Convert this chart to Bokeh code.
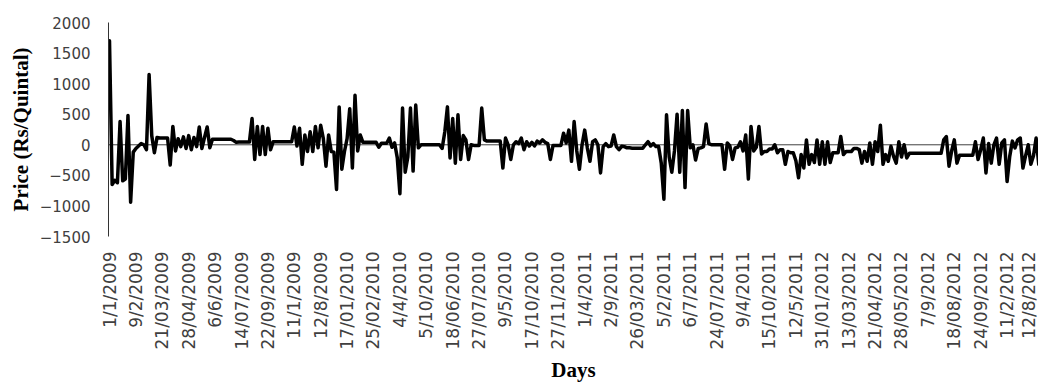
import math
from bokeh.plotting import figure
from bokeh.models import FixedTicker, Span, Range1d
from bokeh.embed import file_html
from bokeh.resources import INLINE

date_labels = [
    "1/1/2009", "9/2/2009", "21/03/2009", "28/04/2009", "6/6/2009", "14/07/2009",
    "22/09/2009", "11/1/2009", "12/8/2009", "17/01/2010", "25/02/2010", "4/4/2010",
    "5/10/2010", "18/06/2010", "27/07/2010", "9/5/2010", "17/10/2010", "27/11/2010",
    "1/4/2011", "2/9/2011", "26/03/2011", "5/2/2011", "6/7/2011", "24/07/2011",
    "9/4/2011", "15/10/2011", "12/5/2011", "31/01/2012", "13/03/2012", "21/04/2012",
    "28/05/2012", "7/9/2012", "18/08/2012", "24/09/2012", "11/2/2012", "12/8/2012",
]
label_every = 10

price_change = [
    1700, -650, -580, -620, 380, -590, -560, 480, -940, -120,
    -60, -20, 20, 0, -80, 1150, 150, -130, 120, 110,
    110, 110, 110, -330, 300, -100, 100, -30, 130, -60,
    150, -80, 120, -30, 290, -60, 120, 290, -50, 90,
    90, 90, 90, 90, 90, 90, 90, 70, 40, 45,
    45, 45, 45, 45, 430, -240, 300, -160, 300, -160,
    270, -80, 50, 50, 50, 50, 50, 50, 50, 50,
    290, -20, 270, -320, 160, -110, 215, -110, 300, -50,
    320, 100, -350, 160, -110, -120, -730, 620, -400, -110,
    100, 590, -380, 810, -100, 160, 40, 40, 40, 40,
    40, 40, -40, 25, 25, 25, 110, -40, 30, -210,
    -800, 600, -450, -200, 600, -430, 650, -50, 0, 0,
    0, 0, 0, 0, 0, 0, -60, 210, 620, -215,
    430, -300, 490, -240, 150, 80, -240, 0, -10, -10,
    -10, 600, 80, 60, 60, 60, 60, 60, 60, -380,
    110, 0, -240, 0, 50, 20, 110, -80, 50, -20,
    40, -20, 60, 30, 80, 40, 20, -240, -10, -10,
    -10, -10, 190, 30, 240, -270, 380, -100, -400, 0,
    240, -50, -270, 50, 80, 0, -460, -30, 20, -30,
    -20, 160, -30, -80, -25, -30, -50, -50, -55, -55,
    -55, -55, -55, 0, 50, -20, 20, -30, -30, -300,
    -890, 490, -200, -450, -100, 500, -450, 560, -700, 560,
    -50, 0, -250, -60, -50, -30, 340, 20, 0, 0,
    0, 0, 0, -400, 30, -20, -240, -50, -40, 50,
    -100, 160, -560, 300, -100, -40, 300, -150, -110, -110,
    -70, -70, 0, -130, -80, -80, -320, -110, -130, -130,
    -260, -540, -160, -380, 80, -320, -160, -290, 80, -320,
    50, -320, 50, -290, -130, -130, -130, 135, -160, -110,
    -110, -110, -60, -60, -80, -300, -110, -270, 30, -320,
    50, -110, 320, -320, -160, -270, -25, -190, -300, 50,
    -200, 0, -215, -140, -140, -140, -140, -140, -140, -140,
    -140, -140, -140, -140, -140, -140, 80, 135, -350, -100,
    80, -300, -170, -170, -170, -170, -170, -170, 50, -240,
    -80, 110, -460, 20, -300, 0, 110, -320, 30, 80,
    -600, -190, 60, -50, 80, 110, -380, -180, 0, -320,
    -180, 110, -320,
]
day_index = list(range(len(price_change)))

y_ticks = [-1500, -1000, -500, 0, 500, 1000, 1500, 2000]

p = figure(
    width=1038, height=385,
    output_backend="svg", toolbar_location=None,
    x_range=Range1d(-0.38, 351.9), y_range=Range1d(-1500, 2000),
    min_border_left=108, min_border_right=0, min_border_top=22, min_border_bottom=147,
)
p.grid.visible = False
p.outline_line_color = None
p.background_fill_color = "white"

p.add_layout(Span(location=0, dimension="width", line_color="#404040",
                  line_width=1, level="underlay"))
p.line(day_index, price_change, line_color="black", line_width=3.5,
       line_join="round", line_cap="round")

tick_font = "DejaVu Sans"
lab_color = "#404040"

xa = p.xaxis[0]
xa.ticker = FixedTicker(ticks=[i * label_every for i in range(len(date_labels))])
xa.major_label_overrides = {i * label_every: lab for i, lab in enumerate(date_labels)}
xa.major_label_orientation = math.pi / 2
xa.axis_line_color = None
xa.major_tick_line_color = None
xa.minor_tick_line_color = None
xa.major_tick_out = 0
xa.major_label_standoff = 15
xa.major_label_text_font = tick_font
xa.major_label_text_font_size = "17px"
xa.major_label_text_color = lab_color
xa.axis_label = "Days"
xa.axis_label_text_font = "Liberation Serif"
xa.axis_label_text_font_style = "bold"
xa.axis_label_text_font_size = "21px"
xa.axis_label_text_color = "black"
xa.axis_label_standoff = 6

ya = p.yaxis[0]
ya.ticker = FixedTicker(ticks=y_ticks)
ya.axis_line_color = "#333333"
ya.axis_line_width = 1
ya.major_tick_line_color = None
ya.minor_tick_line_color = None
ya.major_tick_out = 0
ya.major_label_standoff = 18
ya.major_label_text_font = tick_font
ya.major_label_text_font_size = "15px"
ya.major_label_text_color = lab_color
ya.axis_label = "Price (Rs/Quintal)"
ya.axis_label_text_font = "Liberation Serif"
ya.axis_label_text_font_style = "bold"
ya.axis_label_text_font_size = "21px"
ya.axis_label_text_color = "black"
ya.axis_label_standoff = 4

open("out.html", "w").write(file_html(p, INLINE))
